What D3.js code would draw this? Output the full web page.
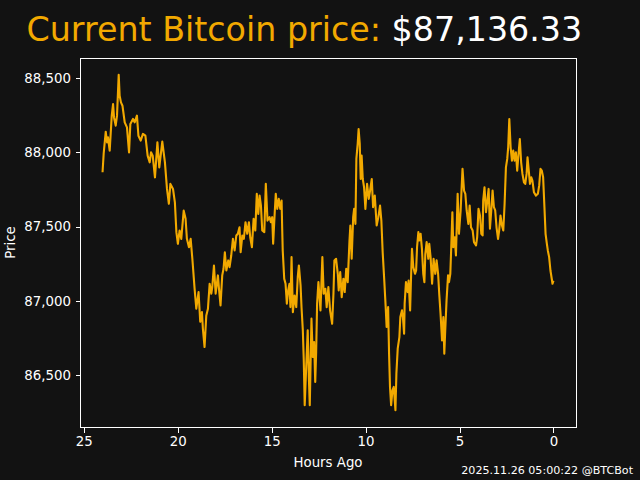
<!DOCTYPE html>
<html><head><meta charset="utf-8">
<script src="https://cdn.jsdelivr.net/npm/d3@7"></script>
<style>
html,body{margin:0;padding:0;background:#121212;}
svg{display:block;font-family:"DejaVu Sans",sans-serif;}
</style></head>
<body><svg id="c" width="640" height="480"></svg>
<script>
const hoursAgo = [24.00,23.94,23.83,23.76,23.71,23.62,23.51,23.44,23.39,23.30,23.23,23.14,23.09,23.02,22.94,22.82,22.70,22.59,22.52,22.38,22.29,22.17,22.09,21.97,21.85,21.72,21.60,21.49,21.42,21.33,21.21,21.08,20.98,20.82,20.68,20.57,20.47,20.39,20.25,20.15,20.07,19.99,19.90,19.81,19.68,19.58,19.51,19.40,19.31,19.22,19.10,19.01,18.89,18.80,18.71,18.66,18.57,18.48,18.39,18.30,18.21,18.16,18.07,17.98,17.86,17.81,17.72,17.63,17.56,17.49,17.41,17.31,17.24,17.15,17.06,16.97,16.88,16.80,16.71,16.65,16.56,16.48,16.39,16.30,16.21,16.14,16.05,15.96,15.87,15.79,15.71,15.64,15.57,15.50,15.39,15.31,15.22,15.11,15.04,14.97,14.92,14.83,14.78,14.70,14.62,14.54,14.47,14.44,14.41,14.33,14.26,14.19,14.12,14.05,14.00,13.94,13.87,13.78,13.69,13.61,13.55,13.46,13.41,13.34,13.29,13.24,13.16,13.08,13.02,12.97,12.88,12.81,12.74,12.68,12.63,12.58,12.51,12.40,12.30,12.23,12.14,12.07,11.98,11.89,11.78,11.71,11.66,11.57,11.48,11.43,11.35,11.27,11.18,11.11,11.03,10.95,10.86,10.81,10.74,10.66,10.61,10.54,10.49,10.42,10.37,10.31,10.26,10.21,10.15,10.08,10.01,9.92,9.83,9.76,9.67,9.60,9.51,9.41,9.32,9.23,9.16,9.09,9.00,8.93,8.88,8.80,8.75,8.70,8.64,8.57,8.50,8.41,8.36,8.29,8.20,8.15,8.06,8.00,7.95,7.92,7.85,7.76,7.71,7.63,7.58,7.53,7.46,7.37,7.31,7.26,7.19,7.14,7.07,7.00,6.93,6.87,6.82,6.75,6.66,6.61,6.54,6.46,6.38,6.29,6.22,6.14,6.08,6.01,5.93,5.86,5.81,5.76,5.69,5.61,5.56,5.49,5.44,5.38,5.33,5.26,5.19,5.10,5.03,4.94,4.89,4.84,4.76,4.69,4.62,4.53,4.46,4.39,4.30,4.23,4.12,4.06,3.99,3.91,3.84,3.77,3.74,3.67,3.59,3.52,3.45,3.38,3.31,3.24,3.17,3.10,3.03,2.95,2.89,2.82,2.74,2.67,2.60,2.53,2.46,2.41,2.35,2.28,2.21,2.14,2.07,2.00,1.93,1.86,1.79,1.72,1.65,1.57,1.50,1.43,1.38,1.33,1.25,1.18,1.12,1.04,0.93,0.83,0.76,0.69,0.62,0.55,0.48,0.42,0.35,0.30,0.23,0.16,0.05,0.00];
const prices = [87866,87991,88139,88067,88101,88012,88247,88325,88235,88180,88247,88522,88381,88336,88314,88202,88168,88000,88191,88225,88202,88247,88112,88079,88124,88112,87978,87933,88000,87978,87832,88067,87899,88072,87933,87754,87654,87788,87754,87664,87463,87385,87474,87418,87608,87553,87418,87362,87418,87284,87082,86948,87060,86860,86925,86814,86690,86900,86948,87116,87049,87093,87239,87049,87172,87093,86970,87172,87217,87328,87205,87273,87228,87306,87418,87340,87441,87452,87496,87328,87441,87418,87530,87452,87530,87429,87362,87553,87474,87721,87586,87709,87642,87474,87463,87788,87541,87564,87530,87564,87385,87609,87721,87620,87687,87620,87676,87496,87340,87150,87116,86982,87071,87116,86959,87295,86925,87037,86959,87160,87239,87105,86959,86803,86601,86299,86556,86803,86489,86299,86881,86623,86724,86455,86657,86982,87127,86937,87295,87049,87082,86959,87093,86937,86847,87049,87273,87284,87183,87071,87194,87026,87150,87060,87217,87127,87396,87508,87284,87564,87620,87519,87956,88057,88157,88057,87821,87978,87821,87765,87620,87788,87687,87743,87821,87631,87709,87508,87564,87642,87541,87328,87127,86959,86825,86959,86646,86422,86299,86399,86422,86265,86511,86679,86757,86892,86937,86870,86780,86982,87127,87060,87138,86937,87160,87351,87228,87183,87205,87362,87463,87407,87452,87351,87183,87127,87317,87396,87284,87385,87295,87116,87284,87183,87273,87183,87049,86914,86735,86892,86646,86803,87004,87172,87127,87183,87362,87597,87362,87429,87306,87721,87452,87609,87754,87889,87743,87721,87609,87519,87642,87496,87474,87396,87374,87429,87620,87575,87452,87441,87676,87765,87597,87676,87754,87486,87609,87743,87631,87609,87496,87418,87474,87575,87508,87474,87654,87899,87956,88034,88224,88034,87944,88012,87944,88000,87877,87989,88090,87933,87855,87799,87788,87855,87967,87899,87788,87832,87810,87732,87709,87721,87776,87889,87877,87832,87631,87452,87385,87340,87295,87205,87116,87136.33];
const yTicks = [86500, 87000, 87500, 88000, 88500];
const xTicks = [25, 20, 15, 10, 5, 0];
const titleLabel = "Current Bitcoin price: ";
const currentPrice = "$87,136.33";
const footer = "2025.11.26 05:00:22 @BTCBot";

const svg = d3.select("#c");
const W = 640, H = 480;
const L = 80, R = 576, T = 58, B = 427;
const orange = "#f2a900";
const fg = "#ffffff";

svg.append("rect").attr("width", W).attr("height", H).attr("fill", "#121212");

const data = hoursAgo.map((h, i) => ({h, p: prices[i]}));
const hx = d3.extent(hoursAgo), py = d3.extent(prices);
const hpad = (hx[1] - hx[0]) * 0.05, ppad = (py[1] - py[0]) * 0.05;
const x = d3.scaleLinear().domain([hx[1] + hpad, hx[0] - hpad]).range([L, R]);
const y = d3.scaleLinear().domain([py[0] - ppad, py[1] + ppad]).range([B, T]);

svg.append("defs").append("clipPath").attr("id", "clip")
  .append("rect").attr("x", L).attr("y", T).attr("width", R - L).attr("height", B - T);
svg.append("path").datum(data)
  .attr("clip-path", "url(#clip)")
  .attr("fill", "none").attr("stroke", orange).attr("stroke-width", 2.1)
  .attr("stroke-linejoin", "round").attr("stroke-linecap", "butt")
  .attr("d", d3.line().x(d => x(d.h)).y(d => y(d.p)));

const xAxis = svg.append("g").attr("transform", `translate(0,${B + 0.5})`)
  .call(d3.axisBottom(x).tickValues(xTicks).tickSize(5).tickPadding(4).tickFormat(d3.format("d")));
const yAxis = svg.append("g").attr("transform", `translate(${L + 0.5},0)`)
  .call(d3.axisLeft(y).tickValues(yTicks).tickSize(5).tickPadding(4.5).tickFormat(d3.format(",")));
[xAxis, yAxis].forEach(g => {
  g.select(".domain").remove();
  g.selectAll("line").attr("stroke", fg).attr("stroke-width", 1).attr("shape-rendering", "crispEdges");
  g.selectAll("text").attr("fill", fg).attr("font-size", "13.33px").attr("font-family", "DejaVu Sans");
});

svg.append("rect").attr("x", L + 0.5).attr("y", T + 0.5).attr("width", R - L).attr("height", B - T)
  .attr("fill", "none").attr("stroke", fg).attr("stroke-width", 1).attr("shape-rendering", "crispEdges");

svg.append("text").attr("x", (L + R) / 2).attr("y", 467).attr("text-anchor", "middle")
  .attr("fill", fg).attr("font-size", "13.33px").text("Hours Ago");
svg.append("text").attr("transform", `translate(14.5,${(T + B) / 2}) rotate(-90)`)
  .attr("text-anchor", "middle").attr("fill", fg).attr("font-size", "13.33px").text("Price");

const t = svg.append("text").attr("x", 26.5).attr("y", 41).attr("font-size", "33.3px");
t.append("tspan").attr("fill", orange).text(titleLabel);
t.append("tspan").attr("fill", fg).text(currentPrice);

svg.append("text").attr("x", 633).attr("y", 474).attr("text-anchor", "end")
  .attr("fill", fg).attr("font-size", "11.1px").text(footer);
</script></body></html>
